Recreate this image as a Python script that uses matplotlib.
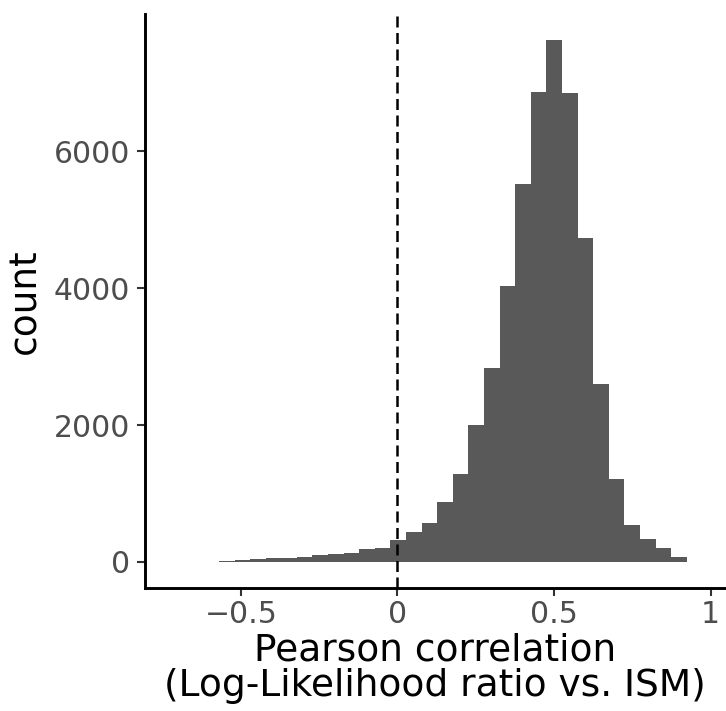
import numpy as np
import matplotlib
matplotlib.use("Agg")
import matplotlib.pyplot as plt

# ---- data ----
bin_start = -0.570
bin_width = 0.0498
counts = [10, 22, 38, 55, 57, 78, 107, 110, 125, 192, 205,
          318,
          432, 563, 881, 1287, 2003, 2835, 4032, 5523, 6867, 7625,
          6851, 4738, 2604, 1208, 539, 329, 209, 73]
x_ticks = [-0.5, 0, 0.5, 1]
x_tick_labels = ["\u22120.5", "0", "0.5", "1"]
y_ticks = [0, 2000, 4000, 6000]
y_tick_labels = ["0", "2000", "4000", "6000"]
vline_x = 0
xlabel = "Pearson correlation\n(Log-Likelihood ratio vs. ISM)"
ylabel = "count"

lefts = bin_start + bin_width * np.arange(len(counts))

fig = plt.figure(figsize=(7.26, 7.11), dpi=100)
ax = fig.add_axes([145 / 726, 1 - 588 / 711, 580 / 726, (588 - 14) / 711])

ax.bar(lefts, counts, width=bin_width, align="edge", color="#595959",
       edgecolor="none", linewidth=0, zorder=2)
ln = ax.axvline(vline_x, color="black", linewidth=1.8, zorder=3)
ln.set_dashes((4.4, 2.2))

ax.set_xlim(-0.806, 1.046)
ax.set_ylim(-381, 8006)

ax.set_xticks(x_ticks)
ax.set_xticklabels(x_tick_labels)
ax.set_yticks(y_ticks)
ax.set_yticklabels(y_tick_labels)

for s in ["top", "right"]:
    ax.spines[s].set_visible(False)
for s in ["left", "bottom"]:
    ax.spines[s].set_linewidth(2.1)
    ax.spines[s].set_color("black")

ax.tick_params(axis="both", length=5.5, width=1.5, color="#333333",
               labelsize=21.5, labelcolor="#4D4D4D")
ax.tick_params(axis="y", pad=5)
ax.tick_params(axis="x", pad=3)

ax.set_xlabel(xlabel, fontsize=27, color="black", linespacing=0.95,
              labelpad=3)
ax.set_ylabel(ylabel, fontsize=27, color="black", labelpad=8)

fig.savefig("out.png", dpi=100)
